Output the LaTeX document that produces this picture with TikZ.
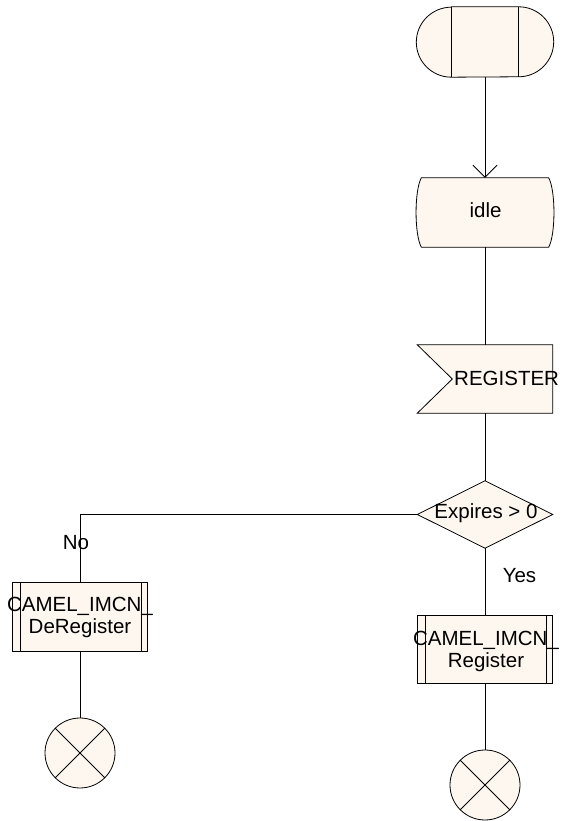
\documentclass[tikz,border=0pt]{standalone}
\usepackage{fontspec}
\setmainfont{Liberation Sans}
\usetikzlibrary{arrows.meta}
\definecolor{symfill}{RGB}{254,247,240}
\begin{document}
\begin{tikzpicture}[x=1pt,y=1pt,
  lbl/.style={font=\fontsize{20.5}{22.5}\selectfont, inner sep=0pt, align=center},
  frame/.style={inner sep=0pt, minimum width=135pt, minimum height=68pt},
  sym/.style={draw=black, line width=0.8pt, fill=symfill},
  conn/.style={draw=black, line width=0.8pt},
  endsym/.style={circle, minimum size=70pt, inner sep=0pt}]
\useasboundingbox (0,0) rectangle (563,821);
% invisible frames
\node[frame, minimum width=137pt, minimum height=70pt] (start) at (485,779) {};
\node[frame, minimum width=137pt, minimum height=69pt] (idle) at (485,608.5) {};
\node[frame] (reg) at (485,442) {};
\node[frame, minimum height=67pt] (dec) at (485,306.5) {};
\node[frame] (deReg) at (80,204) {};
\node[frame, minimum height=67pt] (regp) at (485,171.5) {};
\node[endsym] (endL) at (80,68) {};
\node[endsym] (endR) at (485,36) {};
% start symbol
\path[sym] ([xshift=35pt]start.north west) -- ([xshift=-35pt]start.north east)
  arc[start angle=90,end angle=-90,radius=35pt]
  -- ([xshift=35pt]start.south west)
  arc[start angle=270,end angle=90,radius=35pt] -- cycle;
\draw[conn] ([xshift=35pt]start.north west) -- ([xshift=35pt]start.south west);
\draw[conn] ([xshift=-35pt]start.north east) -- ([xshift=-35pt]start.south east);
% state idle
\path[sym] ([xshift=5pt]idle.north west) -- ([xshift=-5pt]idle.north east)
  .. controls ([xshift=2pt,yshift=-13pt]idle.north east) and ([xshift=2pt,yshift=13pt]idle.south east) .. ([xshift=-5pt]idle.south east)
  -- ([xshift=5pt]idle.south west)
  .. controls ([xshift=-2pt,yshift=13pt]idle.south west) and ([xshift=-2pt,yshift=-13pt]idle.north west) .. cycle;
% input signal
\path[sym] (reg.north west) -- (reg.north east) -- (reg.south east) -- (reg.south west) -- ([xshift=35pt]reg.west) -- cycle;
% decision
\path[sym] (dec.north) -- (dec.east) -- (dec.south) -- (dec.west) -- cycle;
% procedure calls
\path[sym] (deReg.north west) rectangle (deReg.south east);
\draw[conn] ([xshift=8pt]deReg.north west) -- ([xshift=8pt]deReg.south west);
\draw[conn] ([xshift=-6pt]deReg.north east) -- ([xshift=-6pt]deReg.south east);
\path[sym] (regp.north west) rectangle (regp.south east);
\draw[conn] ([xshift=8pt]regp.north west) -- ([xshift=8pt]regp.south west);
\draw[conn] ([xshift=-6pt]regp.north east) -- ([xshift=-6pt]regp.south east);
% terminators
\path[sym] (endL.center) circle[radius=35pt];
\draw[conn] (endL.north west) -- (endL.south east);
\draw[conn] (endL.north east) -- (endL.south west);
\path[sym] (endR.center) circle[radius=35pt];
\draw[conn] (endR.north west) -- (endR.south east);
\draw[conn] (endR.north east) -- (endR.south west);
% connectors
\draw[conn, -{Straight Barb[length=12pt,width=24pt]}] (start.south) -- (idle.north);
\draw[conn] (idle.south) -- (reg.north);
\draw[conn] (reg.south) -- (dec.north);
\draw[conn] (dec.west) -| (deReg.north);
\draw[conn] (dec.south) -- (regp.north);
\draw[conn] (deReg.south) -- (endL.north);
\draw[conn] (regp.south) -- (endR.north);
% texts
\node[lbl] (idlet) at (485.5,611) {idle};
\node[lbl, anchor=west] (regt) at (454,443) {REGISTER};
\node[lbl] (dect) at (486,308) {Expires > 0};
\node[lbl] (deRegt) at (80,203.5) {CAMEL\_IMCN\_\\DeRegister};
\node[lbl] (regpt) at (486,169.5) {CAMEL\_IMCN\_\\Register};
\node[lbl] (no) at (76,278) {No};
\node[lbl] (yes) at (519.5,245) {Yes};
\end{tikzpicture}
\end{document}
